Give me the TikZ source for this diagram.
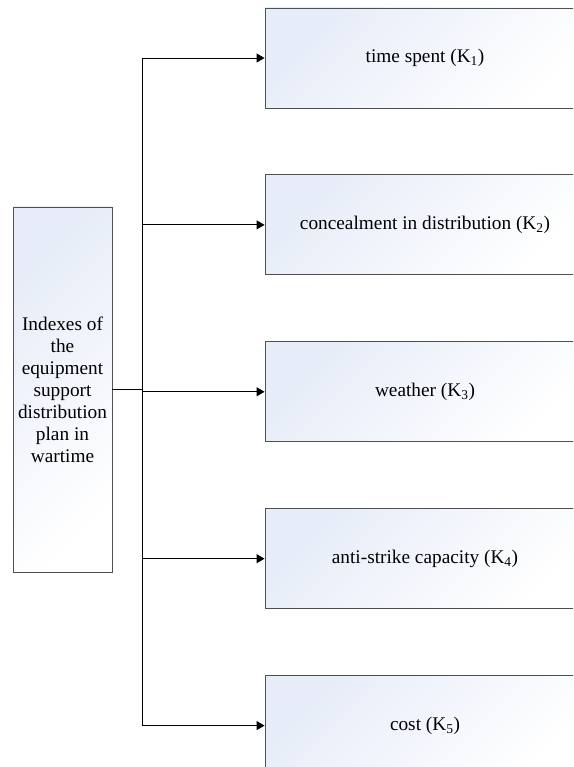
\documentclass[tikz,border=0pt]{standalone}
\usepackage{fontspec}
\setmainfont{Liberation Serif}
\usetikzlibrary{
    positioning,
    arrows.meta
}
\definecolor{boxblue}{RGB}{230,236,248}
\definecolor{boxline}{RGB}{80,80,80}

\begin{document}
\begin{tikzpicture}[
    x=1pt, y=-1pt,
    node distance=66pt,
    every node/.style={font=\fontsize{19.3}{22}\selectfont},
    block/.style={rectangle, draw=boxline, line width=0.9pt, align=center,
        top color=boxblue, bottom color=white, shading angle=45},
    index/.style={block, minimum width=320pt, minimum height=100pt},
    root/.style={block, minimum width=99pt, minimum height=365pt, inner sep=0pt},
    link/.style={line width=0.9pt},
    arrow/.style={link, -{Triangle[length=8pt, width=9pt]}}
]
\clip (0,0) rectangle (573,767);

% ================= NODES =================
\node[root] (plan) at (62.5,389.5)
    {Indexes of\\ the\\ equipment\\ support\\ distribution\\ plan in\\ wartime};

\node[index] (k1) at (425,58) {time spent (K\textsubscript{1})};
\node[index, below=of k1] (k2) {concealment in distribution (K\textsubscript{2})};
\node[index, below=of k2] (k3) {weather (K\textsubscript{3})};
\node[index, below=of k3] (k4) {anti-strike capacity (K\textsubscript{4})};
\node[index, below=of k4] (k5) {cost (K\textsubscript{5})};

\coordinate[right=30pt of plan.east] (trunk);

% ================= ARROWS =================
\draw[link] (plan.east) -- (trunk);
\draw[link] (trunk |- k1.west) -- (trunk |- k5.west);
\foreach \i in {1,...,5}
    \draw[arrow] (trunk |- k\i.west) -- (k\i.west);

\end{tikzpicture}
\end{document}
